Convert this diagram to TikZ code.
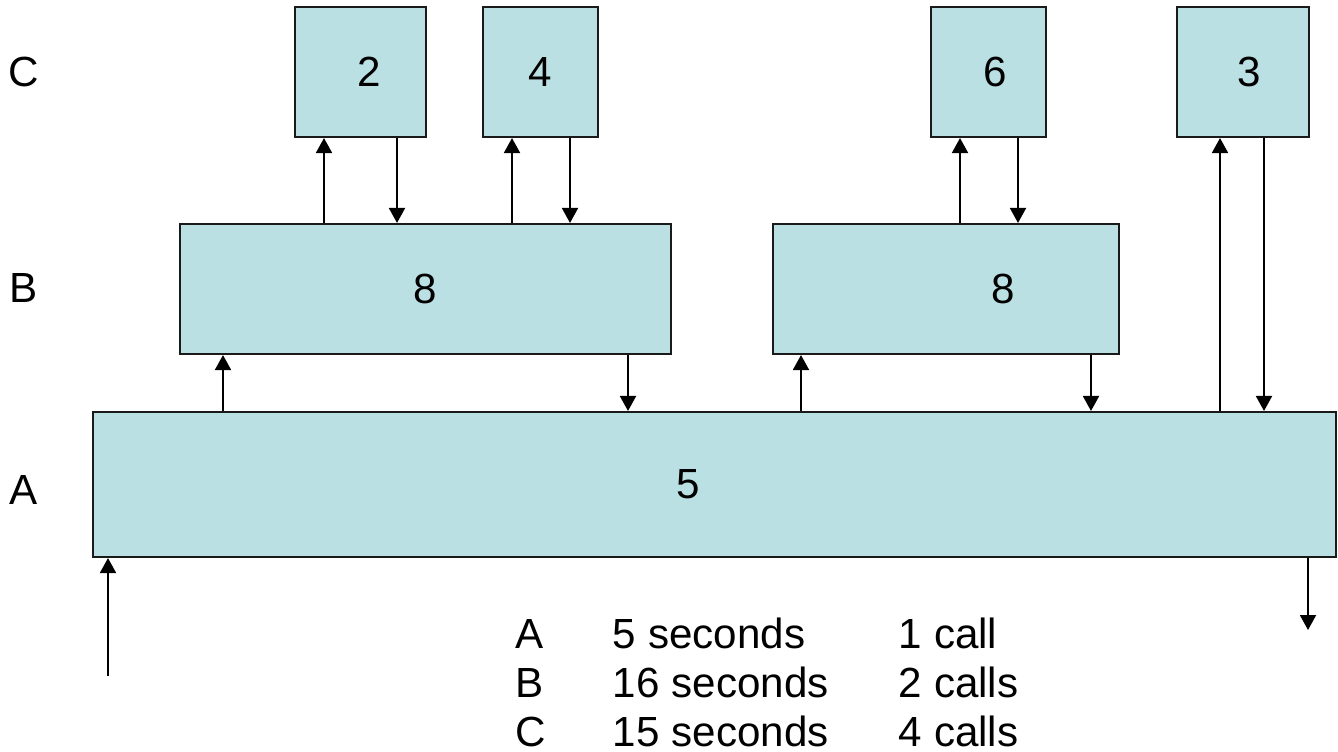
\documentclass[tikz,border=0pt]{standalone}
\usepackage{fontspec}
\setmainfont{Liberation Sans}
\usetikzlibrary{positioning}
\usetikzlibrary{arrows.meta}
\definecolor{boxfill}{HTML}{BBE0E3}
\definecolor{boxline}{HTML}{1A1A1A}

\begin{document}
\begin{tikzpicture}[x=0.02cm, y=-0.02cm, line width=1.1pt,
		>={Triangle[width=0.32cm,length=0.3cm]},
		box/.style={draw=boxline, fill=boxfill, line width=1.2pt, inner sep=0pt},
		txt/.style={font=\fontsize{24}{29}\selectfont, inner sep=0pt},
		every label/.style={txt}]
		\useasboundingbox (0,0) rectangle (1338,751);
		\node[box, minimum width=2.62cm, minimum height=2.6cm, label={[xshift=0.17cm]center:2}] (c2) at (360.5,72) {};
		\node[box, minimum width=2.3cm, minimum height=2.6cm, label={center:4}] (c4) at (540.5,72) {};
		\node[box, minimum width=2.3cm, minimum height=2.6cm, label={[xshift=0.13cm]center:6}] (c6) at (988.5,72) {};
		\node[box, minimum width=2.64cm, minimum height=2.6cm, label={[xshift=0.12cm]center:3}] (c3) at (1243,72) {};
		\node[box, minimum width=9.82cm, minimum height=2.6cm, label={center:8}] (b1) at (425.5,289) {};
		\node[box, minimum width=6.92cm, minimum height=2.6cm, label={[xshift=1.14cm]center:8}] (b2) at (946,289) {};
		\node[box, minimum width=24.86cm, minimum height=2.9cm, label={[xshift=-0.53cm]center:5}] (a) at (714.5,484.5) {};
		\node[txt] (lc) at (24,72) {C};
		\node[txt] (lb) at (24,288) {B};
		\node[txt] (la) at (24,490) {A};
		\draw[->] (324,0 |- b1.north) -- (324,0 |- c2.south);
		\draw[->] (397,0 |- c2.south) -- (397,0 |- b1.north);
		\draw[->] (512,0 |- b1.north) -- (512,0 |- c4.south);
		\draw[->] (570,0 |- c4.south) -- (570,0 |- b1.north);
		\draw[->] (960,0 |- b2.north) -- (960,0 |- c6.south);
		\draw[->] (1018,0 |- c6.south) -- (1018,0 |- b2.north);
		\draw[->] (223,0 |- a.north) -- (223,0 |- b1.south);
		\draw[->] (628,0 |- b1.south) -- (628,0 |- a.north);
		\draw[->] (801,0 |- a.north) -- (801,0 |- b2.south);
		\draw[->] (1091,0 |- b2.south) -- (1091,0 |- a.north);
		\draw[->] (1220,0 |- a.north) -- (1220,0 |- c3.south);
		\draw[->] (1264,0 |- c3.south) -- (1264,0 |- a.north);
		\coordinate (in) at (108,676);
		\draw[->] (in) -- (in |- a.south);
		\coordinate (out) at (1308,630);
		\draw[->] (out |- a.south) -- (out);
		\node[txt, anchor=base west] (ka) at (515,648) {A};
		\node[txt, anchor=base west] (ta) at (612,648) {5 seconds};
		\node[txt, anchor=base west] (na) at (898,648) {1 call};
		\node[txt, anchor=base west] (kb) at (515,697) {B};
		\node[txt, anchor=base west] (tb) at (612,697) {16 seconds};
		\node[txt, anchor=base west] (nb) at (898,697) {2 calls};
		\node[txt, anchor=base west] (kc) at (515,746) {C};
		\node[txt, anchor=base west] (tc) at (612,746) {15 seconds};
		\node[txt, anchor=base west] (nc) at (898,746) {4 calls};
\end{tikzpicture}
\end{document}
